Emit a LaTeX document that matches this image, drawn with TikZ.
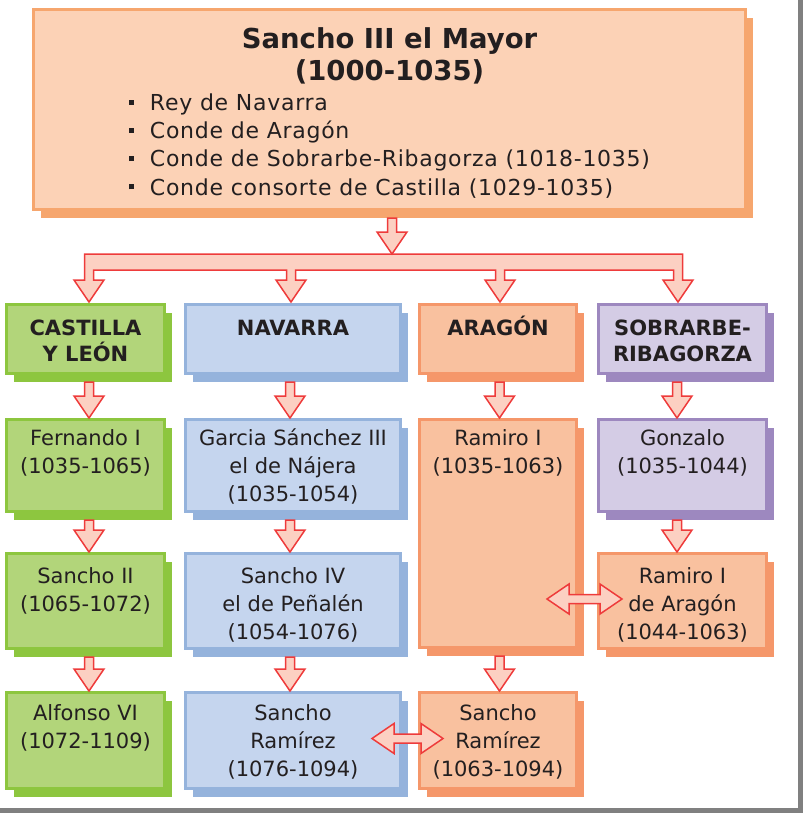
\documentclass[tikz,border=0pt]{standalone}
\usepackage{fontspec}
\setmainfont{DejaVu Sans}
\usetikzlibrary{calc,shadows}
\newlength\pxu
\setlength\pxu{0.75pt}
\definecolor{tpF}{HTML}{FCD2B6}
\definecolor{tpL}{HTML}{F6A66E}
\definecolor{grF}{HTML}{B2D57A}
\definecolor{grL}{HTML}{8DC63F}
\definecolor{blF}{HTML}{C5D5EE}
\definecolor{blL}{HTML}{95B3DC}
\definecolor{orF}{HTML}{F9C19F}
\definecolor{orL}{HTML}{F5976A}
\definecolor{puF}{HTML}{D4CCE5}
\definecolor{puL}{HTML}{9D88BF}
\definecolor{arL}{HTML}{EE3B3B}
\definecolor{arF}{HTML}{FCD0C2}
\definecolor{txt}{HTML}{231F20}
\definecolor{framegray}{HTML}{808080}
\tikzset{
  bx/.style={draw=#1L, fill=#1F, line width=3\pxu, inner sep=0pt, anchor=north west, text=txt,
    general shadow={fill=#1L, shadow xshift=7.5\pxu, shadow yshift=-8.5\pxu}},
  harrow/.style={draw=arL, fill=arF, line width=1.5\pxu, line join=miter},
}
\newcommand\mybx[3]{\parbox[t][\dimexpr#2\pxu-3\pxu\relax][t]{\dimexpr#1\pxu-3\pxu\relax}{\centering#3}}
\newcommand\myhf{\fontsize{15.75}{19.5}\selectfont\bfseries}
\newcommand\mytf{\fontsize{15.75}{21}\selectfont}
\newcommand\mybul{\leavevmode\llap{\raisebox{5.8\pxu}{\rule{5\pxu}{5\pxu}}\hspace{15.5\pxu}}}
% vertical hollow arrow from node #1 (below its shadow) to node #2, x offset #3
\newcommand\vconn[3]{\draw[harrow] ($(#1.south)+(#3-4.5,7)$) -- ($(#2.north)+(#3-4.5,-22)$) -- ($(#2.north)+(#3-15,-22)$) -- ($(#2.north)+(#3,0)$) -- ($(#2.north)+(#3+15,-22)$) -- ($(#2.north)+(#3+4.5,-22)$) -- ($(#1.south)+(#3+4.5,7)$) -- cycle;}
% horizontal double hollow arrow between two tips
\newcommand\hconn[2]{\draw[harrow] (#1) -- ($(#1)+(22,-15)$) -- ($(#1)+(22,-4.5)$) -- ($(#2)+(-22,-4.5)$) -- ($(#2)+(-22,-15)$) -- (#2) -- ($(#2)+(-22,15)$) -- ($(#2)+(-22,4.5)$) -- ($(#1)+(22,4.5)$) -- ($(#1)+(22,15)$) -- cycle;}
\begin{document}
\begin{tikzpicture}[x=0.75pt,y=-0.75pt]
\useasboundingbox (0,0) rectangle (808,822);
\fill[framegray] (798,0) rectangle (803,813);
\fill[framegray] (0,808) rectangle (803,813);

% top box
\node[bx=tp] (top) at (32,8) {\parbox[t][200\pxu][t]{712\pxu}{%
  \centering\fontsize{20.6}{24}\selectfont\bfseries\rule{0pt}{38.8\pxu}Sancho III el Mayor\\(1000-1035)\par
  \vspace{1.3pt}%
  \raggedright\fontsize{16.5}{21.2}\selectfont\mdseries\addfontfeature{LetterSpace=3.3}\leftskip=116.5\pxu
  \mybul Rey de Navarra\\
  \mybul Conde de Aragón\\
  \mybul Conde de Sobrarbe-Ribagorza (1018-1035)\\
  \mybul Conde consorte de Castilla (1029-1035)\par}};

% headers
\node[bx=gr] (cas) at (5,303)   {\mybx{161}{72}{\myhf\rule{0pt}{30.5\pxu}CASTILLA\\Y LEÓN}};
\node[bx=bl] (nav) at (184,303) {\mybx{218}{72}{\myhf\rule{0pt}{30.5\pxu}NAVARRA}};
\node[bx=or] (ara) at (418,303) {\mybx{160}{72}{\myhf\rule{0pt}{30.5\pxu}ARAGÓN}};
\node[bx=pu] (sob) at (597,303) {\mybx{171}{72}{\myhf\rule{0pt}{30.5\pxu}SOBRARBE-\\RIBAGORZA}};

% row 2
\node[bx=gr] (fer)  at (5,418)   {\mybx{161}{95}{\mytf\rule{0pt}{25.5\pxu}Fernando I\\(1035-1065)}};
\node[bx=bl] (gar)  at (184,418) {\mybx{218}{95}{\mytf\rule{0pt}{25.5\pxu}Garcia Sánchez III\\el de Nájera\\(1035-1054)}};
\node[bx=or] (ram1) at (418,418) {\mybx{160}{231}{\mytf\rule{0pt}{25.5\pxu}Ramiro I\\(1035-1063)}};
\node[bx=pu] (gon)  at (597,418) {\mybx{171}{95}{\mytf\rule{0pt}{25.5\pxu}Gonzalo\\(1035-1044)}};

% row 3
\node[bx=gr] (san2) at (5,552)   {\mybx{161}{98}{\mytf\rule{0pt}{29.5\pxu}Sancho II\\(1065-1072)}};
\node[bx=bl] (san4) at (184,552) {\mybx{218}{98}{\mytf\rule{0pt}{29.5\pxu}Sancho IV\\el de Peñalén\\(1054-1076)}};
\node[bx=or] (ramD) at (597,552) {\mybx{171}{98}{\mytf\rule{0pt}{29.5\pxu}Ramiro I\\de Aragón\\(1044-1063)}};

% row 4
\node[bx=gr] (alf)  at (5,691)   {\mybx{161}{99}{\mytf\rule{0pt}{28\pxu}Alfonso VI\\(1072-1109)}};
\node[bx=bl] (sanN) at (184,691) {\mybx{218}{99}{\mytf\rule{0pt}{28\pxu}Sancho\\Ramírez\\(1076-1094)}};
\node[bx=or] (sanA) at (418,691) {\mybx{160}{99}{\mytf\rule{0pt}{28\pxu}Sancho\\Ramírez\\(1063-1094)}};

% distribution bar
\draw[harrow] (84.5,254) -- (682.5,254) -- (682.5,280) -- (693,280) -- (678,302) -- (663,280) -- (673.5,280) -- (673.5,270)
  -- (504.5,270) -- (504.5,280) -- (515,280) -- (500,302) -- (485,280) -- (495.5,280) -- (495.5,270)
  -- (295.5,270) -- (295.5,280) -- (306,280) -- (291,302) -- (276,280) -- (286.5,280) -- (286.5,270)
  -- (93.5,270) -- (93.5,280) -- (104,280) -- (89,302) -- (74,280) -- (84.5,280) -- cycle;
\coordinate (bartop) at (392,254);
\draw[harrow] ($(top.south)+(-2,7)$) -- ($(top.south |- bartop)+(-2,-22)$) -- ($(top.south |- bartop)+(-12.5,-22)$)
  -- ($(top.south |- bartop)+(2.5,0)$) -- ($(top.south |- bartop)+(17.5,-22)$) -- ($(top.south |- bartop)+(7,-22)$)
  -- ($(top.south)+(7,7)$) -- cycle;

% vertical connectors
\vconn{cas}{fer}{3.5}
\vconn{fer}{san2}{3.5}
\vconn{san2}{alf}{3.5}
\vconn{nav}{gar}{-3}
\vconn{gar}{san4}{-3}
\vconn{san4}{sanN}{-3}
\vconn{ara}{ram1}{1.5}
\vconn{ram1}{sanA}{1.5}
\vconn{sob}{gon}{-5.5}
\vconn{gon}{ramD}{-5.5}

% horizontal double connectors
\coordinate (d1L) at ($(ram1.east |- ramD.center)+(-31,-2)$);
\coordinate (d1R) at ($(ramD.west)+(25,-2)$);
\hconn{d1L}{d1R}
\coordinate (d2L) at ($(sanN.east)+(-30,-2)$);
\coordinate (d2R) at ($(sanA.west)+(25,-2)$);
\hconn{d2L}{d2R}
\end{tikzpicture}
\end{document}
